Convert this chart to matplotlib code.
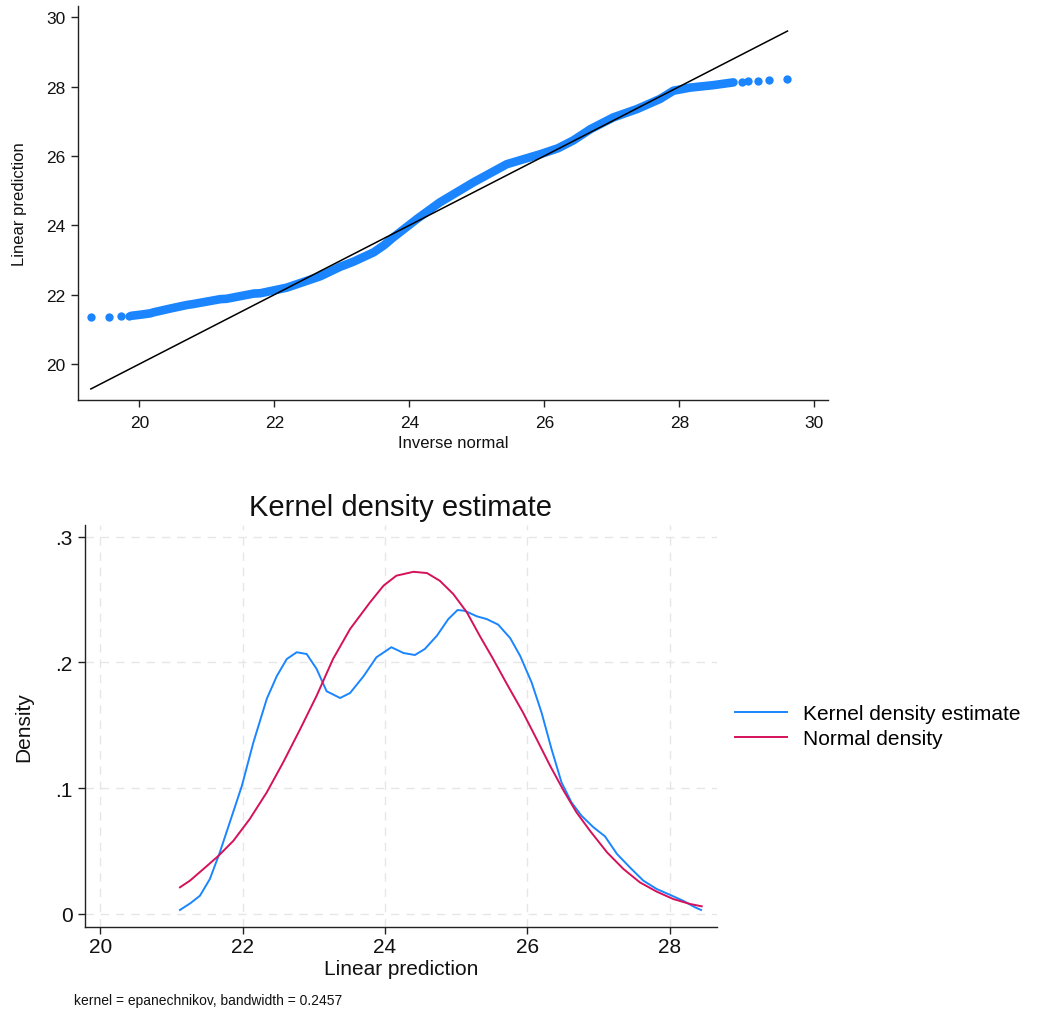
import matplotlib
matplotlib.use("Agg")
import matplotlib.pyplot as plt

plt.rcParams['font.family'] = ['Liberation Sans', 'DejaVu Sans']

BLUE = '#1A85FF'
RED = '#D41159'

# --- quantile-normal plot ---
# dense band of points
qq_x = [19.88, 20.01, 20.16, 20.21, 20.46, 20.70, 20.80, 21.20, 21.29, 21.69, 21.79,
        22.18, 22.68, 22.97, 23.17, 23.47, 23.62, 23.76, 24.11, 24.45, 24.95, 25.44,
        25.94, 26.20, 26.43, 26.68, 27.02, 27.37, 27.71, 27.91, 28.16, 28.50, 28.80]
qq_y = [21.39, 21.42, 21.46, 21.49, 21.60, 21.70, 21.73, 21.87, 21.88, 22.03, 22.04,
        22.20, 22.53, 22.80, 22.95, 23.22, 23.42, 23.65, 24.18, 24.66, 25.24, 25.76,
        26.05, 26.22, 26.45, 26.77, 27.11, 27.35, 27.64, 27.88, 27.97, 28.04, 28.12]
# isolated points in the tails
tail_x = [19.28, 19.55, 19.72, 19.84, 28.92, 29.02, 29.17, 29.32, 29.60]
tail_y = [21.36, 21.36, 21.37, 21.39, 28.14, 28.15, 28.16, 28.18, 28.23]
ref_x = [19.28, 29.60]

# --- kernel density ---
kde_x = [21.12, 21.27, 21.40, 21.54, 21.68, 21.82, 21.99, 22.15, 22.34, 22.48, 22.62,
         22.76, 22.90, 23.04, 23.18, 23.37, 23.51, 23.70, 23.88, 24.09, 24.26, 24.42,
         24.56, 24.73, 24.89, 25.02, 25.12, 25.29, 25.43, 25.59, 25.76, 25.90, 26.06,
         26.20, 26.34, 26.48, 26.62, 26.76, 26.93, 27.09, 27.26, 27.44, 27.63, 27.82,
         28.01, 28.19, 28.36, 28.44]
kde_y = [0.003, 0.0085, 0.0143, 0.0276, 0.0488, 0.0727, 0.1018, 0.136, 0.171, 0.189,
         0.2026, 0.208, 0.2066, 0.1947, 0.177, 0.1716, 0.1756, 0.189, 0.204, 0.212,
         0.2074, 0.2058, 0.2106, 0.2212, 0.2344, 0.2416, 0.241, 0.2366, 0.2344, 0.23,
         0.2192, 0.205, 0.184, 0.160, 0.131, 0.1045, 0.0886, 0.078, 0.0687, 0.0616,
         0.0475, 0.0369, 0.0263, 0.0196, 0.0149, 0.0103, 0.005, 0.003]
norm_x = [21.12, 21.26, 21.45, 21.66, 21.87, 22.10, 22.34, 22.57, 22.81, 23.04, 23.27,
          23.51, 23.79, 23.98, 24.16, 24.40, 24.59, 24.77, 24.96, 25.15, 25.33, 25.52,
          25.71, 25.94, 26.13, 26.32, 26.51, 26.69, 26.88, 27.12, 27.35, 27.58, 27.82,
          28.05, 28.29, 28.45]
norm_y = [0.021, 0.0263, 0.0356, 0.046, 0.058, 0.0753, 0.0966, 0.1204, 0.147, 0.1734,
          0.2026, 0.2265, 0.2477, 0.261, 0.2689, 0.272, 0.271, 0.2649, 0.2543, 0.2398,
          0.2212, 0.2026, 0.183, 0.160, 0.139, 0.1177, 0.0979, 0.0807, 0.066, 0.0488,
          0.0356, 0.025, 0.0175, 0.0117, 0.0077, 0.0059]

qq_ticks = [20, 22, 24, 26, 28, 30]
kde_xticks = [20, 22, 24, 26, 28]
kde_yticks = [0, 0.1, 0.2, 0.3]
kde_ylabels = ['0', '.1', '.2', '.3']

fig = plt.figure(figsize=(10.53, 10.12), dpi=100)


def style_axes(ax, size):
    for s in ['top', 'right']:
        ax.spines[s].set_visible(False)
    for s in ['left', 'bottom']:
        ax.spines[s].set_color('#222222')
        ax.spines[s].set_linewidth(1.0)
    ax.tick_params(axis='both', length=5, width=1, color='#222222',
                   labelsize=size, labelcolor='#111111', pad=4)


# top panel
ax1 = fig.add_axes([0.0741, 0.6037, 0.7122, 0.3893])
ax1.plot(qq_x, qq_y, color=BLUE, lw=6.2, solid_capstyle='round', zorder=2)
ax1.plot(tail_x, tail_y, 'o', color=BLUE, ms=6.0, mew=0, zorder=2)
ax1.plot(ref_x, ref_x, color='black', lw=1.1, zorder=3)
ax1.set_xlim(19.09, 30.20)
ax1.set_ylim(18.96, 30.32)
ax1.set_xticks(qq_ticks)
ax1.set_yticks(qq_ticks)
style_axes(ax1, 12.5)
ax1.tick_params(axis='x', pad=6)
ax1.set_xlabel('Inverse normal', fontsize=12, labelpad=3, color='#111111')
ax1.set_ylabel('Linear prediction', fontsize=12, labelpad=14, color='#111111')

# bottom panel
ax2 = fig.add_axes([0.0810, 0.0827, 0.5996, 0.3980])
ax2.plot(kde_x, kde_y, color=BLUE, lw=1.4, label='Kernel density estimate')
ax2.plot(norm_x, norm_y, color=RED, lw=1.4, label='Normal density')
ax2.set_xlim(19.79, 28.66)
ax2.set_ylim(-0.0108, 0.3096)
ax2.set_xticks(kde_xticks)
ax2.set_yticks(kde_yticks)
ax2.set_yticklabels(kde_ylabels)
ax2.grid(True, color='#e6e6e6', lw=1.0, linestyle=(0, (6, 5)))
ax2.set_axisbelow(True)
style_axes(ax2, 15)
ax2.tick_params(axis='x', pad=2)
ax2.set_title('Kernel density estimate', fontsize=21, pad=7, color='#111111')
ax2.set_xlabel('Linear prediction', fontsize=15, labelpad=2, color='#111111')
ax2.set_ylabel('Density', fontsize=15, labelpad=16, color='#111111')

fig.text(0.070, 0.004, 'kernel = epanechnikov, bandwidth = 0.2457',
         fontsize=10, color='#111111', ha='left', va='bottom')

fig.legend(handles=ax2.get_lines(), loc='center left',
           bbox_to_anchor=(0.698, 0.2816), frameon=False, fontsize=15,
           handlelength=2.5, handletextpad=0.75, labelspacing=0.3,
           borderpad=0, borderaxespad=0)

fig.savefig('out.png', dpi=100)
